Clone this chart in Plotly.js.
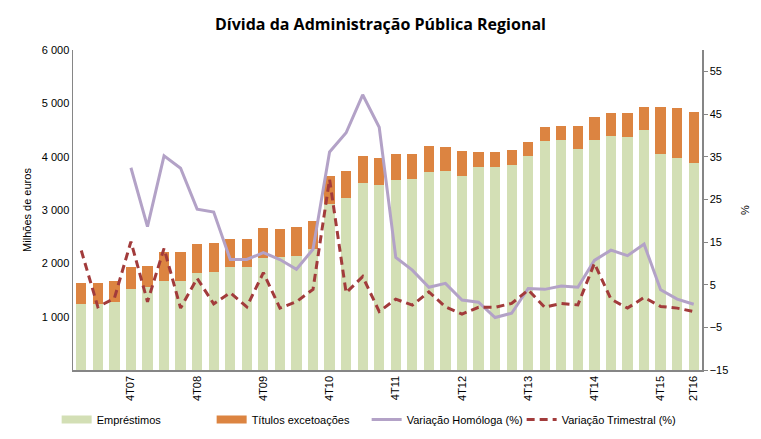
<!DOCTYPE html>
<html>
<head>
<meta charset="utf-8">
<script src="https://cdn.plot.ly/plotly-3.0.1.min.js"></script>
<style>
  body { margin: 0; background: #fff; }
  #chart { width: 761px; height: 439px; }
</style>
</head>
<body>
<div id="chart"></div>
<script>
var quarters = [
  '1T07', '2T07', '3T07', '4T07', '1T08', '2T08', '3T08', '4T08',
  '1T09', '2T09', '3T09', '4T09', '1T10', '2T10', '3T10', '4T10',
  '1T11', '2T11', '3T11', '4T11', '1T12', '2T12', '3T12', '4T12',
  '1T13', '2T13', '3T13', '4T13', '1T14', '2T14', '3T14', '4T14',
  '1T15', '2T15', '3T15', '4T15', '1T16', '2T16'
];

// milhões de euros
var emprestimos = [
  1237, 1237, 1275, 1519, 1556, 1669, 1669, 1819,
  1837, 1931, 1931, 2100, 2119, 2137, 2269, 3112,
  3225, 3506, 3469, 3562, 3581, 3712, 3731, 3637,
  3806, 3806, 3844, 4012, 4294, 4312, 4144, 4312,
  4387, 4369, 4500, 4050, 3975, 3881
];

var titulos = [
  394, 394, 394, 412, 394, 543, 543, 543,
  544, 525, 525, 562, 525, 544, 525, 525,
  506, 506, 506, 488, 469, 488, 450, 469,
  281, 281, 281, 263, 262, 263, 431, 432,
  432, 450, 431, 881, 937, 956
];

// %
var homologa = [
  null, null, null, 32.4, 18.6, 35.2, 32.3, 22.7,
  22.0, 10.9, 10.9, 12.5, 10.9, 8.6, 13.3, 36.1,
  40.6, 49.5, 41.9, 11.4, 8.4, 4.4, 5.3, 1.4,
  0.9, -2.7, -1.7, 4.1, 3.9, 4.7, 4.4, 10.7,
  13.1, 11.8, 14.5, 3.8, 1.6, 0.4
];

var trimestral = [
  13.0, -0.2, 1.8, 15.1, 1.0, 13.5, -0.5, 6.5,
  0.5, 3.1, -0.2, 7.8, -0.5, 1.0, 3.9, 29.7,
  3.1, 6.9, -1.3, 1.6, 0.2, 3.3, -0.2, -1.9,
  -0.3, -0.3, 0.6, 3.75, -0.3, 0.6, 0.25, 10.0,
  1.6, -0.5, 2.0, -0.1, -0.5, -1.3
];

var tickQuarters = ['4T07', '4T08', '4T09', '4T10', '4T11', '4T12', '4T13', '4T14', '4T15', '2T16'];
var leftTicks = [1000, 2000, 3000, 4000, 5000, 6000];
var leftTickText = ['1 000', '2 000', '3 000', '4 000', '5 000', '6 000'];
var rightTicks = [-15, -5, 5, 15, 25, 35, 45, 55];

var green = '#d3dfb5';
var orange = '#dc8441';

var data = [
  {
    x: quarters,
    y: emprestimos,
    type: 'bar',
    name: 'Empréstimos',
    marker: { color: green },
    showlegend: false
  },
  {
    x: quarters,
    y: titulos,
    type: 'bar',
    name: 'Títulos excetoações',
    marker: { color: orange },
    showlegend: false
  },
  // legend entries for the bars, drawn as wide swatches like in Excel
  {
    x: [quarters[0]], y: [null],
    type: 'scatter', mode: 'lines',
    name: 'Empréstimos',
    line: { color: green, width: 8 }
  },
  {
    x: [quarters[0]], y: [null],
    type: 'scatter', mode: 'lines',
    name: 'Títulos excetoações',
    line: { color: orange, width: 8 }
  },
  {
    x: quarters,
    y: homologa,
    type: 'scatter',
    mode: 'lines',
    name: 'Variação Homóloga (%)',
    yaxis: 'y2',
    line: { color: '#b3a2c7', width: 3 }
  },
  {
    x: quarters,
    y: trimestral,
    type: 'scatter',
    mode: 'lines',
    name: 'Variação Trimestral (%)',
    yaxis: 'y2',
    line: { color: '#a23b3b', width: 3, dash: '8px,5px' }
  }
];

var layout = {
  width: 761,
  height: 439,
  paper_bgcolor: '#ffffff',
  plot_bgcolor: '#ffffff',
  barmode: 'stack',
  bargap: 0.38,
  font: { family: 'Liberation Sans, Arial, sans-serif', size: 11, color: '#000000' },
  margin: { l: 73, r: 59, t: 50, b: 69, autoexpand: false },
  title: {
    text: '<b>Dívida da Administração Pública Regional</b>',
    font: { family: 'Open Sans, Noto Sans, sans-serif', size: 16, color: '#000000' },
    x: 0.5,
    xanchor: 'center',
    y: 0.945,
    yanchor: 'middle'
  },
  showlegend: true,
  legend: {
    orientation: 'h',
    x: -0.026,
    xanchor: 'left',
    y: -0.155,
    yanchor: 'middle',
    entrywidth: 110,
    entrywidthmode: 'pixels',
    bgcolor: 'rgba(0,0,0,0)',
    font: { size: 11, color: '#000000' },
    traceorder: 'normal'
  },
  xaxis: {
    type: 'category',
    categoryorder: 'array',
    categoryarray: quarters,
    tickmode: 'array',
    tickvals: tickQuarters,
    ticktext: tickQuarters,
    tickangle: -90,
    ticks: '',
    showgrid: false,
    zeroline: false,
    showline: true,
    linecolor: '#868686',
    linewidth: 1.5,
    tickfont: { size: 11, color: '#000000' }
  },
  yaxis: {
    range: [0, 6000],
    tickmode: 'array',
    tickvals: leftTicks,
    ticktext: leftTickText,
    ticks: '',
    showgrid: false,
    zeroline: false,
    showline: true,
    linecolor: '#868686',
    linewidth: 1.5,
    tickfont: { size: 11, color: '#000000' },
    title: { text: 'Milhões de euros', font: { size: 11, color: '#000000' }, standoff: 8 }
  },
  yaxis2: {
    overlaying: 'y',
    side: 'right',
    range: [-15, 60],
    tickmode: 'array',
    tickvals: rightTicks,
    ticks: 'outside',
    ticklen: 4,
    tickcolor: '#868686',
    showgrid: false,
    zeroline: false,
    showline: true,
    linecolor: '#868686',
    linewidth: 1.5,
    tickfont: { size: 11, color: '#000000' },
    title: { text: '%', font: { size: 11, color: '#000000' }, standoff: 14 }
  }
};

Plotly.newPlot('chart', data, layout, { displayModeBar: false, staticPlot: true });
</script>
</body>
</html>
